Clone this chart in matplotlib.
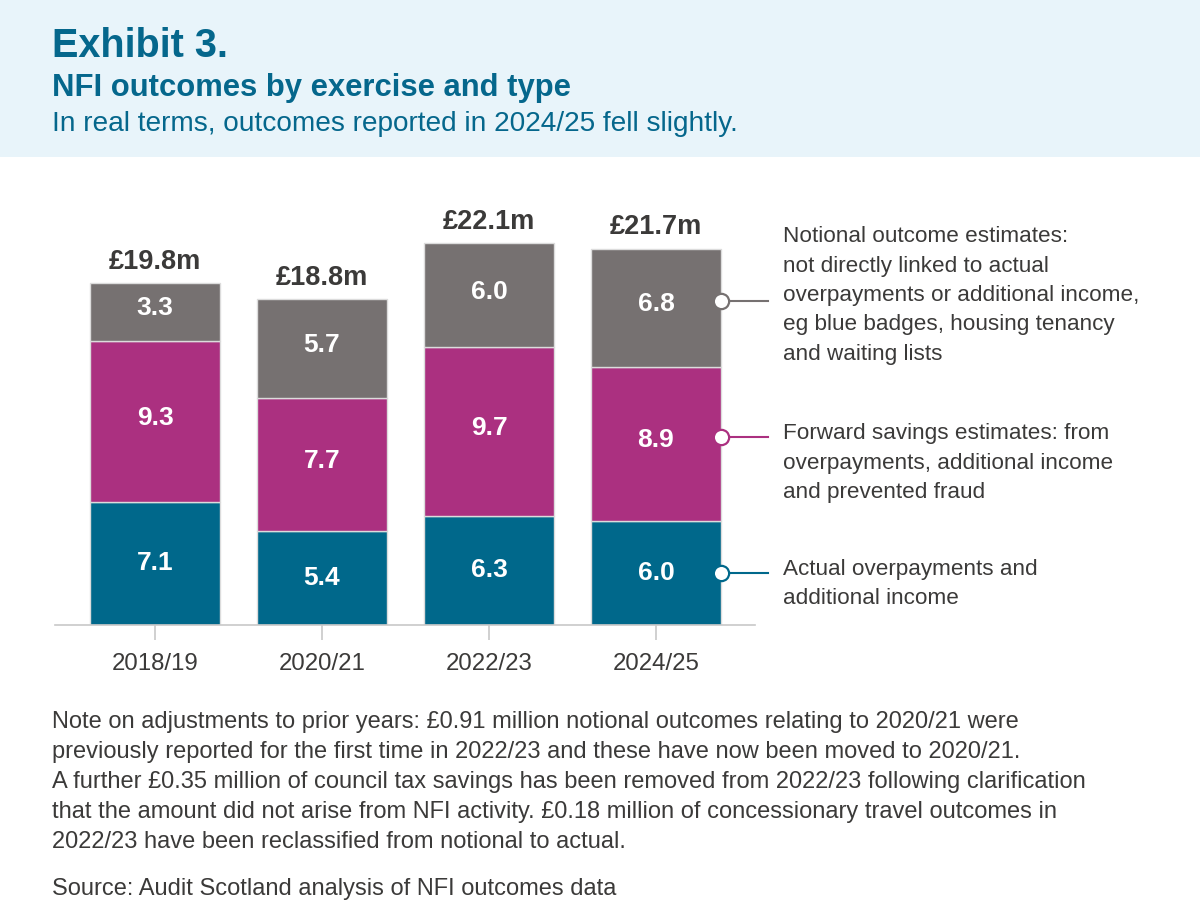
import matplotlib
matplotlib.use("Agg")
import matplotlib.pyplot as plt
import matplotlib.transforms as mtrans
from matplotlib.patches import Rectangle
import numpy as np

# ---------------- data ----------------
years = ["2018/19", "2020/21", "2022/23", "2024/25"]
actual = [7.1, 5.4, 6.3, 6.0]
forward = [9.3, 7.7, 9.7, 8.9]
notional = [3.3, 5.7, 6.0, 6.8]
totals = [19.8, 18.8, 22.1, 21.7]
total_labels = ["£19.8m", "£18.8m", "£22.1m", "£21.7m"]

series_names = ["Actual", "Forward", "Notional"]
series_colors = ["#00688b", "#ab3080", "#767171"]

legend_lines = [
    ["Actual overpayments and", "additional income"],
    ["Forward savings estimates: from", "overpayments, additional income", "and prevented fraud"],
    ["Notional outcome estimates:", "not directly linked to actual",
     "overpayments or additional income,", "eg blue badges, housing tenancy",
     "and waiting lists"],
]

title = "Exhibit 3."
subtitle = "NFI outcomes by exercise and type"
subsubtitle = "In real terms, outcomes reported in 2024/25 fell slightly."
notes = [
    "Note on adjustments to prior years: £0.91 million notional outcomes relating to 2020/21 were",
    "previously reported for the first time in 2022/23 and these have now been moved to 2020/21.",
    "A further £0.35 million of council tax savings has been removed from 2022/23 following clarification",
    "that the amount did not arise from NFI activity. £0.18 million of concessionary travel outcomes in",
    "2022/23 have been reclassified from notional to actual.",
]
source = "Source: Audit Scotland analysis of NFI outcomes data"

# ---------------- style ----------------
W, H = 1200, 918
DPI = 100
TEXT = "#3b3a39"
HEAD = "#05678c"
plt.rcParams["font.family"] = ["Liberation Sans", "DejaVu Sans"]

fig = plt.figure(figsize=(W / DPI, H / DPI), dpi=DPI)
fig.patch.set_facecolor("white")


def fx(x):
    return x / W


def fy(y):
    return 1 - y / H


# header band
fig.patches.append(Rectangle((0, fy(157)), 1, 157 / H, transform=fig.transFigure,
                             facecolor="#e8f4fa", edgecolor="none", zorder=0))
fig.text(fx(52), fy(46), title, fontsize=28.5, fontweight="bold", color=HEAD,
         va="center", ha="left")
fig.text(fx(52), fy(88), subtitle, fontsize=22.3, fontweight="bold", color=HEAD,
         va="center", ha="left")
fig.text(fx(52), fy(124), subsubtitle, fontsize=20.2, color=HEAD,
         va="center", ha="left")

# ---------------- axes ----------------
ax_left, ax_right, ax_top, ax_bottom = 55, 755, 200, 625
ax = fig.add_axes([fx(ax_left), fy(ax_bottom), (ax_right - ax_left) / W,
                   (ax_bottom - ax_top) / H])
ax.set_facecolor("none")
ppu = 167.0  # pixels per category
x = np.arange(len(years))
xl = -(155 - ax_left) / ppu
ax.set_xlim(xl, xl + (ax_right - ax_left) / ppu)
ax.set_ylim(0, 24.5)
bw = 130 / ppu

bottoms = np.zeros(len(years))
seg_centers = []
for k, (vals, col) in enumerate(zip([actual, forward, notional], series_colors)):
    vals = np.array(vals)
    ax.bar(x, vals, bw, bottom=bottoms, color=col, edgecolor="#dcdcdc",
           linewidth=1.0, zorder=2)
    centers = bottoms + vals / 2
    seg_centers.append(centers)
    lift = 0 if k == 0 else 2.5
    for xi, c, v in zip(x, centers, vals):
        ax.annotate(f"{v:.1f}", (xi, c), xytext=(0, lift), textcoords="offset points",
                    ha="center", va="center", color="white",
                    fontsize=19, fontweight="bold", zorder=3)
    bottoms = bottoms + vals

for xi, t, lab in zip(x, bottoms, total_labels):
    ax.annotate(lab, (xi, t), xytext=(0, 6), textcoords="offset points",
                ha="center", va="bottom", fontsize=19.5, fontweight="bold", color=TEXT)

# axis styling
for s in ["top", "right", "left"]:
    ax.spines[s].set_visible(False)
ax.spines["bottom"].set_color("#c8c8c8")
ax.spines["bottom"].set_linewidth(1.2)
ax.set_yticks([])
ax.set_xticks(x)
ax.set_xticklabels(years, fontsize=17.3, color=TEXT)
ax.tick_params(axis="x", length=11, width=1.2, color="#c8c8c8", pad=9)

# legend connectors on last bar
last = len(years) - 1
xe = last + bw / 2
x_end = last + (768 - 656) / ppu
for k, (centers, col) in enumerate(zip(seg_centers, series_colors)):
    yv = centers[last]
    lift = 0 if k == 0 else 7
    off = mtrans.offset_copy(ax.transData, fig=fig, x=0, y=lift * 72 / DPI, units="points")
    ax.plot([xe, x_end], [yv, yv], color=col, lw=1.5, clip_on=False, zorder=4,
            transform=off)
    ax.plot([xe], [yv], marker="o", ms=11, mfc="white", mec=col, mew=1.6,
            clip_on=False, zorder=5, transform=off)

# legend texts
leg_y0 = [569, 434, 237]
for lines, y0 in zip(legend_lines, leg_y0):
    for i, line in enumerate(lines):
        fig.text(fx(783), fy(y0 + i * 29.3), line, fontsize=16.2, color=TEXT,
                 va="center", ha="left")

# notes
for i, line in enumerate(notes):
    fig.text(fx(52), fy(722 + i * 30), line, fontsize=17.0, color=TEXT,
             va="center", ha="left")
fig.text(fx(52), fy(889), source, fontsize=17.0, color=TEXT, va="center", ha="left")

fig.savefig("out.png", dpi=DPI, facecolor="white")
